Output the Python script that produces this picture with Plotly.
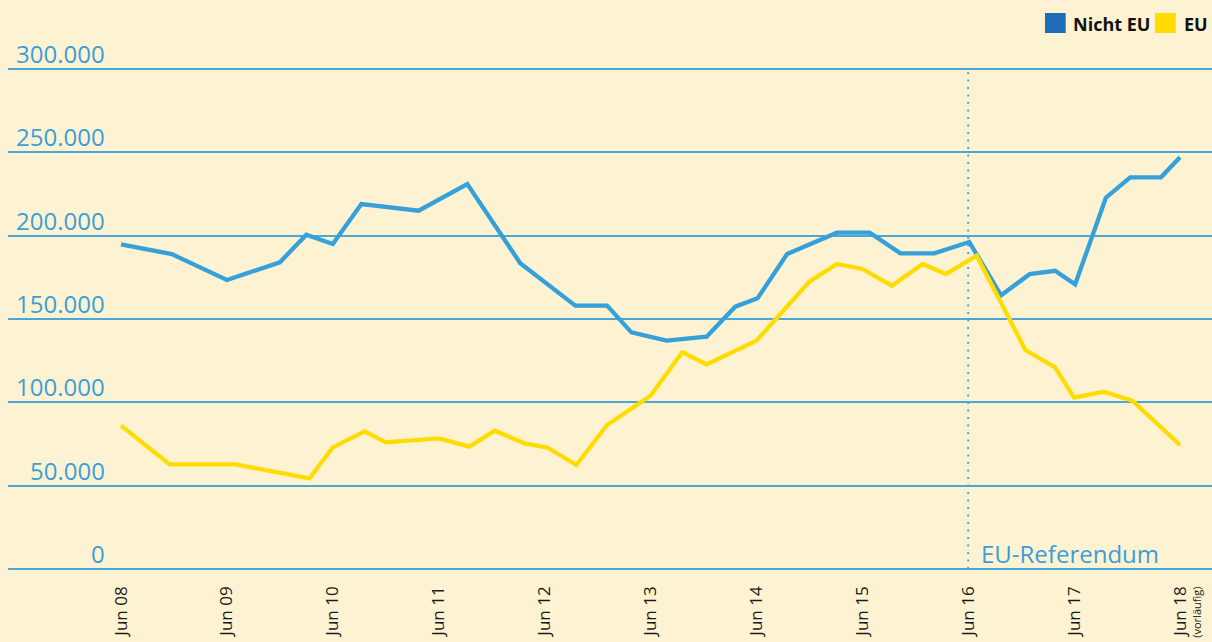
import plotly.graph_objects as go

# ---- data (x = decimal year, Jun 08 = 2008.5) ----
nicht_eu_x = [2008.5, 2008.98, 2009.5, 2010.0, 2010.25, 2010.5, 2010.77, 2011.31, 2011.77,
              2012.27, 2012.79, 2013.09, 2013.32, 2013.65, 2014.03, 2014.3, 2014.51, 2014.79,
              2015.26, 2015.57, 2015.86, 2016.18, 2016.51, 2016.81, 2017.08, 2017.32, 2017.51,
              2017.8, 2018.03, 2018.32, 2018.5]
nicht_eu_y = [194800, 188900, 173400, 184000, 200600, 195000, 219000, 215000, 231000,
              183500, 158000, 158000, 142000, 137000, 139400, 157400, 162400, 189000,
              201800, 201800, 189400, 189400, 196200, 164200, 176900, 178900, 170800,
              222800, 235000, 235000, 247000]

eu_x = [2008.5, 2008.96, 2009.58, 2010.28, 2010.5, 2010.8, 2011.0, 2011.5, 2011.79, 2012.03,
        2012.31, 2012.53, 2012.8, 2013.09, 2013.5, 2013.8, 2014.03, 2014.5, 2015.0, 2015.26,
        2015.5, 2015.78, 2016.07, 2016.29, 2016.58, 2017.04, 2017.32, 2017.5, 2017.78,
        2018.05, 2018.5]
eu_y = [86000, 62800, 62800, 54400, 73000, 82600, 76000, 78400, 73400, 83000,
        75400, 72800, 62400, 86400, 104000, 130000, 122800, 137000, 172400, 183000,
        180000, 170000, 183000, 177000, 188000, 131400, 121000, 102800, 106400,
        101000, 74400]

tick_vals = [2008.5 + i for i in range(11)]
tick_text = ["Jun 08", "Jun 09", "Jun 10", "Jun 11", "Jun 12", "Jun 13",
             "Jun 14", "Jun 15", "Jun 16", "Jun 17", "Jun 18"]
y_ticks = [0, 50000, 100000, 150000, 200000, 250000, 300000]
y_tick_text = ["0", "50.000", "100.000", "150.000", "200.000", "250.000", "300.000"]
referendum_x = 2016.5
series_names = ["Nicht EU", "EU"]

BG = "#fdf3d3"
BLUE_LINE = "#35a0da"
BLUE_LEG = "#1e6eb5"
YELLOW = "#ffdc00"
GRID = "#4aa7d7"
LABEL = "#3a9fd8"
FONT = "Open Sans"

fig = go.Figure()
fig.add_trace(go.Scatter(x=nicht_eu_x, y=nicht_eu_y, mode="lines", name=series_names[0],
                         line=dict(color=BLUE_LINE, width=4.3), showlegend=False))
fig.add_trace(go.Scatter(x=eu_x, y=eu_y, mode="lines", name=series_names[1],
                         line=dict(color=YELLOW, width=4.3), showlegend=False))

# referendum dotted line
fig.add_shape(type="line", xref="x", yref="y", x0=referendum_x, x1=referendum_x,
              y0=0, y1=300000, line=dict(color=GRID, width=2, dash="2px,5.5px"), layer="below")

annotations = []
for v, t in zip(y_ticks, y_tick_text):
    annotations.append(dict(x=2008.37, y=v, xref="x", yref="y", text=t, showarrow=False,
                            xanchor="right", yanchor="bottom", yshift=-3,
                            font=dict(family=FONT, size=24, color=LABEL)))
annotations.append(dict(x=referendum_x, y=0, xref="x", yref="y", text="EU-Referendum",
                        showarrow=False, xanchor="left", yanchor="bottom", xshift=11, yshift=-3,
                        font=dict(family=FONT, size=24, color=LABEL)))
annotations.append(dict(x=tick_vals[-1], y=-0.078, xref="x", yref="paper", text="(vorläufig)",
                        showarrow=False, textangle=-90, xanchor="center", yanchor="middle",
                        xshift=17, font=dict(family=FONT, size=11, color="#1a1a1a")))
# legend
annotations.append(dict(x=0.8829, y=1.0498, xref="paper", yref="paper", text="<b>Nicht EU</b>",
                        showarrow=False, xanchor="left", yanchor="middle",
                        font=dict(family=FONT, size=18, color="#111111")))
annotations.append(dict(x=0.9751, y=1.0498, xref="paper", yref="paper", text="<b>EU</b>",
                        showarrow=False, xanchor="left", yanchor="middle",
                        font=dict(family=FONT, size=18, color="#111111")))
fig.add_shape(type="rect", xref="paper", yref="paper", x0=0.8613, x1=0.8785, y0=1.0326, y1=1.0709,
              fillcolor=BLUE_LEG, line=dict(width=0))
fig.add_shape(type="rect", xref="paper", yref="paper", x0=0.9527, x1=0.9699, y0=1.0326, y1=1.0709,
              fillcolor=YELLOW, line=dict(width=0))

fig.update_layout(
    width=1212, height=642,
    paper_bgcolor=BG, plot_bgcolor=BG,
    margin=dict(l=8, r=0, t=50, b=70),
    annotations=annotations,
    xaxis=dict(range=[2007.433, 2018.802], tickvals=tick_vals, ticktext=tick_text,
               tickangle=-90, showgrid=False, zeroline=False, showline=False, ticks="",
               ticklabelstandoff=10,
               tickfont=dict(family=FONT, size=17, color="#1a1a1a"), fixedrange=True),
    yaxis=dict(range=[-1800, 311400], tickvals=y_ticks, showticklabels=False,
               showgrid=True, gridcolor=GRID, gridwidth=1.5, zeroline=False, showline=False,
               fixedrange=True),
    showlegend=False,
)

fig.write_html("out.html", config={"displayModeBar": False},
               post_script="document.body.style.margin='0';document.body.style.background='" + BG + "';")
